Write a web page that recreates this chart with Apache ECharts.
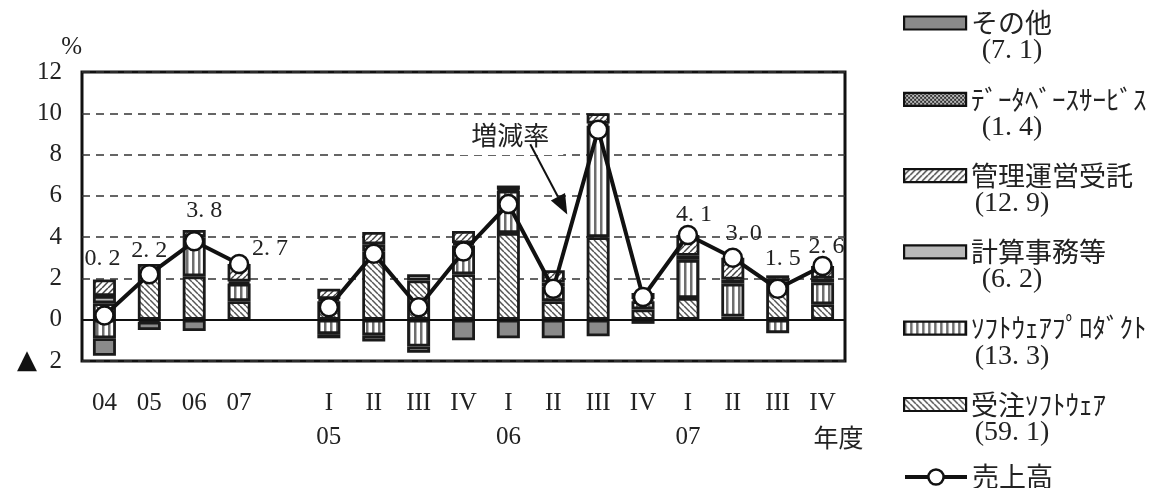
<!DOCTYPE html>
<html>
<head>
<meta charset="utf-8">
<script src="https://cdn.jsdelivr.net/npm/echarts@6/dist/echarts.min.js"></script>
<style>
  html, body { margin: 0; padding: 0; background: #fff; }
  #main { width: 1151px; height: 488px; }
</style>
</head>
<body>
<div id="main"></div>
<script>
// Categories: fiscal years 04-07, a spacer, then quarters of FY05-FY07
const categories = ['04', '05', '06', '07', '', '05Q1', '05Q2', '05Q3', '05Q4', '06Q1', '06Q2', '06Q3', '06Q4', '07Q1', '07Q2', '07Q3', '07Q4'];
const xTickLabels = ['04', '05', '06', '07', '', 'I\n05', 'II', 'III', 'IV', 'I\n06', 'II', 'III', 'IV', 'I\n07', 'II', 'III', 'IV\n{yr|年度}'];
const yTicks = [-2, 0, 2, 4, 6, 8, 10, 12];

// Contribution to growth by segment (percentage points)
const juchuSoftware   = [0.8, 2.7, 2.1, 0.9, '-', 0.9, 3.3, 1.9, 2.2, 4.2, 0.9, 4.0, 0.5, 1.05, 0.15, 1.85, 0.75];
const softwareProduct = [-0.9, -0.1, 1.9, 0.85, '-', -0.7, -0.75, -1.3, 1.4, 2.05, 0.7, 5.4, 0.4, 1.85, 1.6, -0.65, 1.05];
const keisanJimu      = [0.35, 0, 0, 0.1, '-', 0.1, 0.35, 0.3, 0.1, 0.05, 0.2, 0.1, 0.1, 0.2, 0.2, 0.15, 0.2];
const kanriUnei       = [0.8, 0, 0.35, 0.85, '-', 0.5, 0.6, 0, 0.6, 0.2, 0.6, 0.5, 0.3, 1.0, 1.05, 0, 0.6];
const databaseService = [0, 0, 0, 0, '-', 0, 0, 0, 0, 0, 0, 0, 0, 0, 0, 0.15, 0];
const sonota          = [-0.85, -0.4, -0.55, 0, '-', -0.2, -0.3, -0.3, -1.0, -0.9, -0.9, -0.8, -0.2, 0, 0, 0, 0];
// Sales growth rate (%)
const uriage          = [0.2, 2.2, 3.8, 2.7, '-', 0.6, 3.2, 0.6, 3.3, 5.6, 1.5, 9.2, 1.1, 4.1, 3.0, 1.5, 2.6];
const labelledPoints  = [0, 1, 2, 3, 13, 14, 15, 16];

// Legend entries (top to bottom) and their shares of sales
const legendNames = ['その他', 'ﾃﾞｰﾀﾍﾞｰｽｻｰﾋﾞｽ', '管理運営受託', '計算事務等', 'ｿﾌﾄｳｪｱﾌﾟﾛﾀﾞｸﾄ', '受注ｿﾌﾄｳｪｱ'];
const legendShares = [7.1, 1.4, 12.9, 6.2, 13.3, 59.1];
const lineName = '売上高';

// Label placement offsets around the growth-rate points
const labelOffsets = {
  0: [-2, -57], 1: [0, -24], 2: [10, -31], 3: [31, -15],
  13: [6, -20], 14: [11, -24], 15: [5, -30], 16: [4, -19]
};

const SERIF = '"Liberation Serif", "DejaVu Serif", serif';
const CJK = '"Noto Sans CJK JP", "Noto Sans", sans-serif';

function fmt(v) { return v.toFixed(1).replace('.', '. '); }

function makePattern(kind) {
  const s = kind === 'dots' ? 4 : 6;
  const c = document.createElement('canvas');
  c.width = s; c.height = s;
  const g = c.getContext('2d');
  g.fillStyle = '#fff';
  g.fillRect(0, 0, s, s);
  if (kind === 'back') {
    g.strokeStyle = '#555'; g.lineWidth = 1.5;
    for (let k = -s; k <= s; k += s) { g.beginPath(); g.moveTo(k, 0); g.lineTo(k + s, s); g.stroke(); }
  } else if (kind === 'fwd') {
    g.strokeStyle = '#444'; g.lineWidth = 1.5;
    for (let k = -s; k <= s; k += s) { g.beginPath(); g.moveTo(k, s); g.lineTo(k + s, 0); g.stroke(); }
  } else if (kind === 'vert') {
    g.fillStyle = '#6e6e6e';
    g.fillRect(0, 0, 2.5, s);
  } else if (kind === 'dots') {
    g.fillStyle = '#bbb'; g.fillRect(0, 0, s, s);
    g.fillStyle = '#333';
    g.fillRect(0, 0, 2, 2); g.fillRect(2, 2, 2, 2);
  }
  return { image: c, repeat: 'repeat' };
}

const segments = [
  { name: '受注ｿﾌﾄｳｪｱ', data: juchuSoftware, color: makePattern('back') },
  { name: 'ｿﾌﾄｳｪｱﾌﾟﾛﾀﾞｸﾄ', data: softwareProduct, color: makePattern('vert') },
  { name: '計算事務等', data: keisanJimu, color: '#b9b9b9' },
  { name: '管理運営受託', data: kanriUnei, color: makePattern('fwd') },
  { name: 'ﾃﾞｰﾀﾍﾞｰｽｻｰﾋﾞｽ', data: databaseService, color: makePattern('dots') },
  { name: 'その他', data: sonota, color: '#8a8a8a' }
];

const barSeries = segments.map(sg => ({
  name: sg.name,
  type: 'bar',
  stack: 'contrib',
  barWidth: 23,
  data: sg.data.map(v => (v === 0 ? '-' : v)),
  itemStyle: { color: sg.color, borderColor: '#1a1a1a', borderWidth: 2.8 },
  emphasis: { disabled: true }
}));

const lineData = uriage.map((v, i) => {
  if (v === '-') return '-';
  const item = { value: v };
  if (labelledPoints.includes(i)) {
    item.label = { show: true, position: 'inside', offset: labelOffsets[i], formatter: p => fmt(p.value) };
  }
  return item;
});

const chart = echarts.init(document.getElementById('main'));
chart.setOption({
  animation: false,
  backgroundColor: '#fff',
  grid: { left: 82, right: 306, top: 72, bottom: 127, show: true, borderColor: '#111', borderWidth: 3, backgroundColor: 'transparent' },
  xAxis: {
    type: 'category',
    data: categories,
    axisLine: { show: false, onZero: false },
    axisTick: { show: false },
    axisLabel: {
      interval: 0, margin: 25,
      fontFamily: SERIF, fontSize: 25, color: '#222', lineHeight: 34,
      formatter: (v, i) => xTickLabels[i],
      rich: { yr: { fontFamily: CJK, fontSize: 25, color: '#222', padding: [0, 0, 0, 32], lineHeight: 34 } }
    }
  },
  yAxis: {
    type: 'value',
    min: yTicks[0], max: yTicks[yTicks.length - 1], interval: 2,
    name: '%',
    nameLocation: 'end',
    nameGap: 12,
    nameTextStyle: { fontFamily: SERIF, fontSize: 25, color: '#222', align: 'right', padding: [0, 0, 0, 0] },
    axisLine: { show: false },
    axisTick: { show: false },
    axisLabel: {
      margin: 20, fontFamily: SERIF, fontSize: 25, color: '#222',
      formatter: v => (v < 0 ? '{t|▲}  ' + Math.abs(v) : String(v)),
      rich: { t: { fontSize: 26, color: '#111', fontFamily: '"DejaVu Sans", sans-serif' } }
    },
    splitLine: { show: true, lineStyle: { color: '#333', width: 1.5, type: [8, 6] } }
  },
  legend: [
    {
      data: legendNames,
      orient: 'vertical',
      left: 898, top: 3,
      itemWidth: 62, itemHeight: 13, itemGap: 46.3,
      icon: 'rect',
      itemStyle: { borderColor: '#111', borderWidth: 2.2 },
      textStyle: { fontFamily: CJK, fontSize: 27, color: '#222', lineHeight: 30 },
      selectedMode: false
    },
    {
      data: [lineName],
      orient: 'vertical',
      left: 898, top: 457,
      itemWidth: 62, itemHeight: 19,
      lineStyle: { color: '#111', width: 4 },
      itemStyle: { color: '#fff', borderColor: '#111', borderWidth: 2.5 },
      textStyle: { fontFamily: CJK, fontSize: 27, color: '#222', lineHeight: 30 },
      selectedMode: false
    }
  ],
  series: [
    ...barSeries,
    {
      name: lineName,
      type: 'line',
      data: lineData,
      symbol: 'circle',
      symbolSize: 18,
      showAllSymbol: true,
      connectNulls: false,
      lineStyle: { color: '#111', width: 4 },
      itemStyle: { color: '#fff', borderColor: '#111', borderWidth: 2.5 },
      label: { fontFamily: SERIF, fontSize: 24, color: '#222' },
      emphasis: { disabled: true },
      z: 5,
      markLine: {
        silent: true,
        symbol: 'none',
        label: { show: false },
        lineStyle: { color: '#111', width: 2, type: 'solid' },
        data: [{ yAxis: 0 }]
      }
    }
  ]
});

// Annotation "増減率" with arrow, plus share values under the legend entries
const px = (ci, v) => chart.convertToPixel({ xAxisIndex: 0, yAxisIndex: 0 }, [ci, v]);
const textAnchor = px(10, 8.95);
const arrowFrom = px(10, 8.5);
const arrowTip = px(10, 5.1);
const tx = arrowTip[0] + 14, ty = arrowTip[1];
const fx = arrowFrom[0] - 23, fy = arrowFrom[1];
const ang = Math.atan2(ty - fy, tx - fx);
const headLen = 20, headHalf = 8;
const bx = tx - headLen * Math.cos(ang), by = ty - headLen * Math.sin(ang);
const nx = -Math.sin(ang) * headHalf, ny = Math.cos(ang) * headHalf;

const graphics = [
  {
    type: 'text', x: textAnchor[0] - 42, y: textAnchor[1], z: 10,
    style: {
      text: '増減率', fontFamily: CJK, fontSize: 26, fill: '#222',
      align: 'center', verticalAlign: 'middle',
      backgroundColor: '#fff', padding: [3, 14, 11, 12]
    }
  },
  { type: 'line', z: 11, shape: { x1: fx, y1: fy, x2: bx, y2: by }, style: { stroke: '#111', lineWidth: 2 } },
  { type: 'polygon', z: 11, shape: { points: [[tx, ty], [bx + nx, by + ny], [bx - nx, by - ny]] }, style: { fill: '#111' } }
];

const rowStart = 18, rowStep = 76.3;
legendShares.forEach((s, i) => {
  graphics.push({
    type: 'text', x: 1012, y: rowStart + i * rowStep + 33, z: 10,
    style: { text: '(' + fmt(s) + ')', fontFamily: SERIF, fontSize: 28, fill: '#222', align: 'center', verticalAlign: 'middle' }
  });
});
chart.setOption({ graphic: graphics });
</script>
</body>
</html>
